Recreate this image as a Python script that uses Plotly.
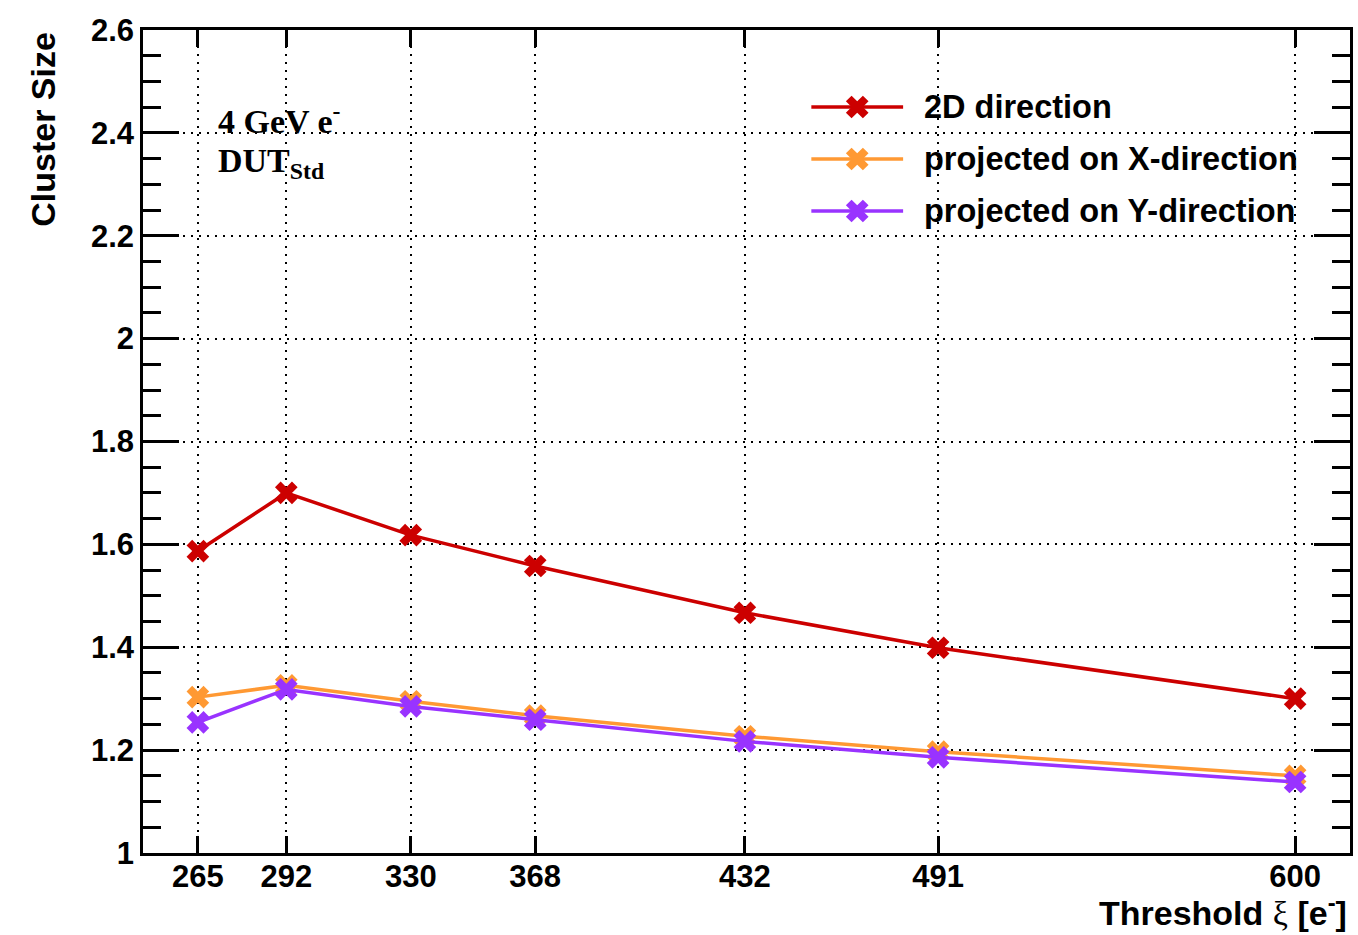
import plotly.graph_objects as go

# Threshold settings (electrons) and mean cluster sizes
thresholds = [265, 292, 330, 368, 432, 491, 600]
size_2d = [1.587, 1.700, 1.618, 1.558, 1.467, 1.399, 1.300]
size_x = [1.303, 1.326, 1.295, 1.267, 1.227, 1.197, 1.150]
size_y = [1.254, 1.318, 1.285, 1.259, 1.217, 1.186, 1.138]

series_names = ["2D direction", "projected on X-direction", "projected on Y-direction"]
series_colors = ["#CC0000", "#FF9933", "#9933FF"]
series_values = [size_2d, size_x, size_y]

W, H = 1358, 935
L, R, T, B = 143, 1353, 30, 853

SANS = "Liberation Sans, Arial, sans-serif"
SERIF = "Liberation Serif, Times New Roman, serif"

fig = go.Figure()

for name, color, vals in zip(series_names, series_colors, series_values):
    fig.add_trace(go.Scatter(
        x=thresholds, y=vals, mode="lines+markers", name=name,
        line=dict(color=color, width=3.5),
        marker=dict(symbol="x", size=20, color=color, line=dict(width=0)),
        showlegend=False,
    ))

# Legend samples drawn on a pixel-scaled overlay axis
leg_rows = [107, 159, 211]
for name, color, yy in zip(series_names, series_colors, leg_rows):
    fig.add_trace(go.Scatter(
        x=[813, 859, 905], y=[yy, yy, yy], mode="lines",
        line=dict(color=color, width=3.5), xaxis="x2", yaxis="y2",
        showlegend=False, hoverinfo="skip",
    ))
    fig.add_trace(go.Scatter(
        x=[859], y=[yy], mode="markers",
        marker=dict(symbol="x", size=20, color=color, line=dict(width=0)),
        xaxis="x2", yaxis="y2", showlegend=False, hoverinfo="skip",
    ))
    fig.add_annotation(
        x=924, y=yy, xref="x2", yref="y2", text=name, showarrow=False,
        xanchor="left", yanchor="middle",
        font=dict(family=SANS, size=32.5, color="black", weight="bold"),
    )

grid_dash = "2px,6px"

fig.update_layout(
    width=W, height=H,
    margin=dict(l=L, r=W - R, t=T, b=H - B, pad=0),
    paper_bgcolor="white", plot_bgcolor="white",
    xaxis=dict(
        range=[248.25, 616.75], tickvals=thresholds,
        ticktext=[str(t) for t in thresholds],
        showline=True, linecolor="black", linewidth=2.5, mirror="ticks",
        ticks="inside", ticklen=17, tickwidth=2.5, tickcolor="black",
        showgrid=True, gridcolor="black", gridwidth=2, griddash=grid_dash,
        zeroline=False,
        tickfont=dict(family=SANS, size=31, color="black", weight="bold"),
        ticklabelstandoff=-6,
    ),
    yaxis=dict(
        range=[1, 2.6], tickvals=[1, 1.2, 1.4, 1.6, 1.8, 2, 2.2, 2.4, 2.6],
        ticktext=["1", "1.2", "1.4", "1.6", "1.8", "2", "2.2", "2.4", "2.6"],
        showline=True, linecolor="black", linewidth=2.5, mirror="ticks",
        ticks="inside", ticklen=36, tickwidth=2.5, tickcolor="black",
        minor=dict(dtick=0.05, tick0=1, ticks="inside", ticklen=18,
                   tickwidth=2.5, tickcolor="black", showgrid=False),
        showgrid=True, gridcolor="black", gridwidth=2, griddash=grid_dash,
        zeroline=False,
        tickfont=dict(family=SANS, size=31, color="black", weight="bold"),
        ticklabelstandoff=0,
    ),
    xaxis2=dict(range=[L, R], overlaying="x", visible=False, fixedrange=True),
    yaxis2=dict(range=[B, T], overlaying="y", visible=False, fixedrange=True),
)

pw, ph = R - L, B - T

# Axis titles
fig.add_annotation(
    x=(1352 - L) / pw, y=-(910 - B) / ph, xref="paper", yref="paper",
    text='Threshold <span style="font-family:Liberation Serif;font-weight:normal">ξ</span> [e<sup>-</sup>]',
    showarrow=False, xanchor="right", yanchor="middle",
    font=dict(family=SANS, size=34, color="black", weight="bold"),
)
fig.add_annotation(
    x=(42 - L) / pw, y=1.0, xref="paper", yref="paper",
    text="Cluster Size", textangle=-90, showarrow=False,
    xanchor="center", yanchor="top",
    font=dict(family=SANS, size=34, color="black", weight="bold"),
)

# Beam / sensor labels
fig.add_annotation(
    x=216, y=119, xref="x2", yref="y2", text="4 GeV e<sup>-</sup>",
    showarrow=False, xanchor="left", yanchor="middle",
    font=dict(family=SERIF, size=34, color="black", weight="bold"),
)
fig.add_annotation(
    x=216, y=163, xref="x2", yref="y2", text="DUT<sub>Std</sub>",
    showarrow=False, xanchor="left", yanchor="middle",
    font=dict(family=SERIF, size=34, color="black", weight="bold"),
)

fig.write_html("out.html")
